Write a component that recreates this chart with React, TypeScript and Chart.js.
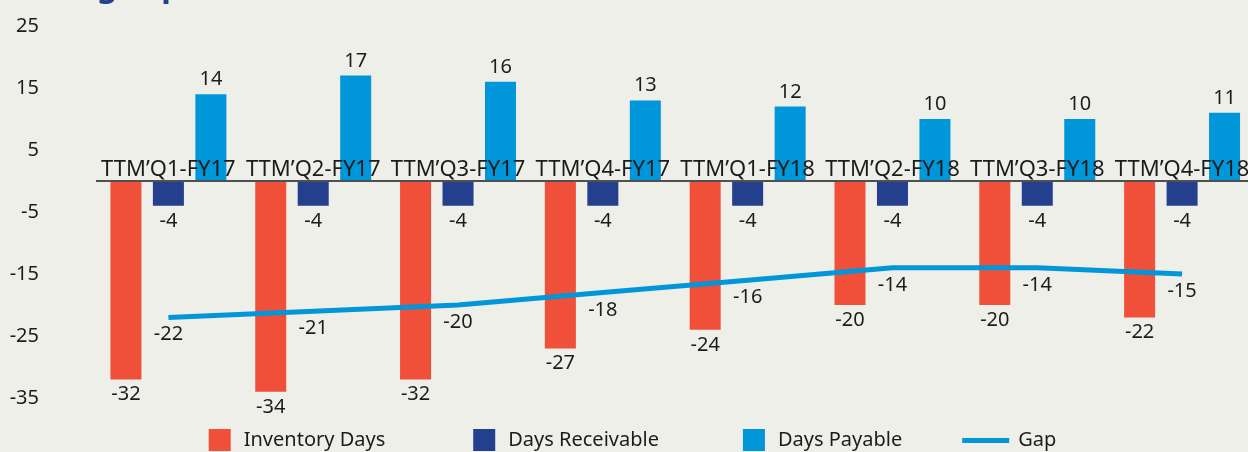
import React, { useEffect, useRef } from 'react';
import { Chart, registerables } from 'chart.js';

Chart.register(...registerables);

// ---- data ----
const categories = [
  'TTM’Q1-FY17', 'TTM’Q2-FY17', 'TTM’Q3-FY17', 'TTM’Q4-FY17',
  'TTM’Q1-FY18', 'TTM’Q2-FY18', 'TTM’Q3-FY18', 'TTM’Q4-FY18',
];
const inventoryDays = [-32, -34, -32, -27, -24, -20, -20, -22];
const daysReceivable = [-4, -4, -4, -4, -4, -4, -4, -4];
const daysPayable = [14, 17, 16, 13, 12, 10, 10, 11];
const gapDays = [-22, -21, -20, -18, -16, -14, -14, -15];
const seriesNames = ['Inventory Days', 'Days Receivable', 'Days Payable', 'Gap'];
const yMin = -35;
const yMax = 25;
const yStep = 10;
const titleText = 'Working capital';

// ---- style ----
const BG = '#EFEFEA';
const FONT = '"Noto Sans", sans-serif';
const TEXT = '#1C1C1C';
const RED = '#F0503A';
const NAVY = '#243F8E';
const BLUE = '#0096DA';
const CANVAS_W = 1265;
const CANVAS_H = 452;

const bgPlugin = {
  id: 'bg',
  beforeDraw(chart: any) {
    const ctx = chart.ctx;
    ctx.save();
    ctx.fillStyle = BG;
    ctx.fillRect(0, 0, chart.width, chart.height);
    // partial title at the very top
    ctx.font = `bold 32px ${FONT}`;
    ctx.fillStyle = '#243F8E';
    ctx.textAlign = 'left';
    ctx.textBaseline = 'alphabetic';
    const pre = ctx.measureText('Workin').width;
    ctx.fillText(titleText, 97 - pre, -4);
    ctx.restore();
  },
};

const labelPlugin = {
  id: 'valueLabels',
  afterDatasetsDraw(chart: any) {
    const ctx = chart.ctx;
    const yScale = chart.scales.y;
    const xScale = chart.scales.x;
    const y0 = yScale.getPixelForValue(0);
    ctx.save();
    // zero axis line
    ctx.strokeStyle = '#505050';
    ctx.lineWidth = 2;
    ctx.beginPath();
    ctx.moveTo(chart.chartArea.left, y0);
    ctx.lineTo(chart.width, y0);
    ctx.stroke();

    // category labels above zero line
    ctx.fillStyle = TEXT;
    ctx.font = `22px ${FONT}`;
    ctx.textAlign = 'center';
    ctx.textBaseline = 'alphabetic';
    categories.forEach((c, i) => {
      ctx.fillText(c, xScale.getPixelForValue(i), y0 - 5);
    });

    // value labels
    ctx.font = `20px ${FONT}`;
    chart.data.datasets.forEach((ds: any, di: number) => {
      const meta = chart.getDatasetMeta(di);
      meta.data.forEach((el: any, i: number) => {
        const v = ds.data[i];
        let y: number;
        if (ds.type === 'line') {
          y = el.y + 23;
        } else if (v < 0) {
          y = el.y + 21;
        } else {
          y = el.y - 9;
        }
        ctx.fillText(String(v), el.x, y);
      });
    });
    ctx.restore();
  },
};

const legendPlugin = {
  id: 'customLegend',
  afterDraw(chart: any) {
    const ctx = chart.ctx;
    ctx.save();
    ctx.font = `20px ${FONT}`;
    ctx.textBaseline = 'alphabetic';
    ctx.textAlign = 'left';
    const colors = [RED, NAVY, BLUE, BLUE];
    const symW = [22, 22, 22, 47];
    const symGap = [13, 13, 13, 9];
    const itemGaps = [88, 84, 60];
    const widths = seriesNames.map((n, i) => symW[i] + symGap[i] + ctx.measureText(n).width);
    const total = widths.reduce((a, b) => a + b, 0) + itemGaps.reduce((a, b) => a + b, 0);
    let x = chart.width / 2 - total / 2;
    const boxTop = 429;
    const baseY = 446;
    seriesNames.forEach((n, i) => {
      ctx.fillStyle = colors[i];
      if (i === 3) {
        ctx.fillRect(x, 438, symW[i], 5);
      } else {
        ctx.fillRect(x, boxTop, symW[i], 22);
      }
      ctx.fillStyle = TEXT;
      ctx.fillText(n, x + symW[i] + symGap[i], baseY);
      x += widths[i] + (itemGaps[i] || 0);
    });
    ctx.restore();
  },
};

export default function App() {
  const ref = useRef<HTMLCanvasElement | null>(null);

  useEffect(() => {
    if (!ref.current) return;
    const chart = new Chart(ref.current, {
      type: 'bar',
      data: {
        labels: categories,
        datasets: [
          {
            type: 'line',
            label: seriesNames[3],
            data: gapDays,
            borderColor: BLUE,
            backgroundColor: BLUE,
            borderWidth: 5,
            pointRadius: 0,
            tension: 0,
            fill: false,
            order: 0,
          } as any,
          {
            label: seriesNames[0],
            data: inventoryDays,
            backgroundColor: RED,
            barPercentage: 0.73,
            categoryPercentage: 0.88,
            order: 1,
          },
          {
            label: seriesNames[1],
            data: daysReceivable,
            backgroundColor: NAVY,
            barPercentage: 0.73,
            categoryPercentage: 0.88,
            order: 1,
          },
          {
            label: seriesNames[2],
            data: daysPayable,
            backgroundColor: BLUE,
            barPercentage: 0.73,
            categoryPercentage: 0.88,
            order: 1,
          },
        ],
      },
      options: {
        responsive: false,
        maintainAspectRatio: false,
        animation: false,
        devicePixelRatio: 1,
        layout: { padding: { left: 0, right: 10.5, top: 26, bottom: 54 } },
        plugins: {
          legend: { display: false },
          tooltip: { enabled: false },
          title: { display: false },
        },
        scales: {
          x: { display: false, offset: true },
          y: {
            min: yMin,
            max: yMax,
            ticks: {
              stepSize: yStep,
              padding: 57,
              color: TEXT,
              font: { family: FONT, size: 20 },
            },
            grid: { display: false, drawTicks: false },
            border: { display: false },
            afterFit(scale: any) {
              scale.width = 96;
              scale.paddingTop = 0;
              scale.paddingBottom = 0;
            },
          },
        },
      },
      plugins: [bgPlugin, labelPlugin, legendPlugin],
    });
    return () => chart.destroy();
  }, []);

  return (
    <div
      style={{
        position: 'absolute',
        left: 0,
        top: 0,
        width: 1248,
        height: 452,
        overflow: 'hidden',
        background: BG,
      }}
    >
      <canvas ref={ref} width={CANVAS_W} height={CANVAS_H} style={{ display: 'block' }} />
    </div>
  );
}
